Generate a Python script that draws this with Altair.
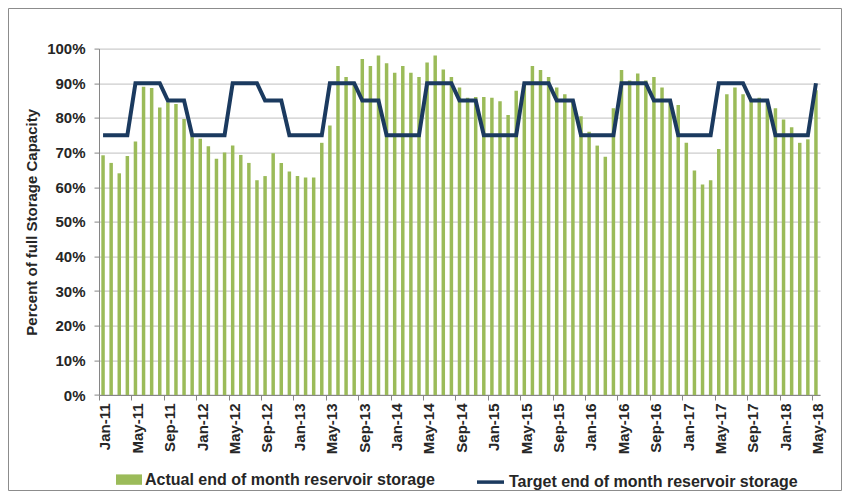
import altair as alt
import pandas as pd

months = ["Jan", "Feb", "Mar", "Apr", "May", "Jun", "Jul", "Aug", "Sep", "Oct", "Nov", "Dec"]
years = ["11", "12", "13", "14", "15", "16", "17", "18"]
labels = [f"{m}-{y}" for y in years for m in months][:89]

actual = [
    69.2, 67.0, 64.0, 69.0, 73.2, 89.0, 88.6, 83.0, 84.5, 84.0, 79.7, 74.5,
    74.0, 71.8, 68.2, 70.0, 72.0, 69.3, 67.0, 62.0, 63.2, 69.8, 67.0, 64.5,
    63.2, 62.8, 62.8, 72.8, 77.8, 95.0, 91.8, 89.5, 97.0, 95.0, 98.0, 95.8,
    93.0, 95.0, 93.0, 91.8, 96.0, 98.0, 94.0, 91.8, 88.8, 85.8, 86.0, 86.0,
    85.8, 84.8, 80.8, 87.8, 89.5, 95.0, 93.8, 91.8, 88.8, 86.8, 84.8, 80.5,
    76.0, 72.0, 68.8, 82.8, 93.8, 90.8, 92.8, 90.8, 91.8, 88.8, 84.5, 83.7,
    72.8, 64.8, 60.8, 62.0, 71.0, 86.8, 88.8, 86.8, 85.5, 85.8, 84.5, 82.8,
    79.5, 77.3, 72.8, 73.8, 88.0,
]

target = [
    75, 75, 75, 75, 90, 90, 90, 90, 85, 85, 85, 75,
    75, 75, 75, 75, 90, 90, 90, 90, 85, 85, 85, 75,
    75, 75, 75, 75, 90, 90, 90, 90, 85, 85, 85, 75,
    75, 75, 75, 75, 90, 90, 90, 90, 85, 85, 85, 75,
    75, 75, 75, 75, 90, 90, 90, 90, 85, 85, 85, 75,
    75, 75, 75, 75, 90, 90, 90, 90, 85, 85, 85, 75,
    75, 75, 75, 75, 90, 90, 90, 90, 85, 85, 85, 75,
    75, 75, 75, 75, 90,
]

tick_labels = labels[::4]
y_ticks = [0, 0.1, 0.2, 0.3, 0.4, 0.5, 0.6, 0.7, 0.8, 0.9, 1.0]

S1 = "Actual end of month reservoir storage"
S2 = "Target end of month reservoir storage"
GREEN = "#9BBB59"
NAVY = "#1B3A5F"
TEXT = "#262626"
FONT = "Liberation Sans Narrow, Arial Narrow, Liberation Sans, sans-serif"

df = pd.DataFrame({
    "month": labels,
    "actual": [v / 100 for v in actual],
    "target": [v / 100 for v in target],
    "s1": S1,
    "s2": S2,
})

W, H = 721, 346.4

x_axis = alt.Axis(
    values=tick_labels, labelAngle=-90, bandPosition=0, tickOffset=-2.3,
    labelOffset=4.05, title=None, labelFont=FONT, labelFontSize=15,
    labelFontWeight="bold", labelColor=TEXT, domainColor="#868686",
    tickColor="#868686", tickSize=5, labelPadding=3, grid=False,
    labelOverlap=False,
)
x_scale = alt.Scale(paddingInner=0.57, paddingOuter=0.285)

y_axis = alt.Axis(
    format="%", values=y_ticks, title="Percent of full Storage Capacity",
    titleFont=FONT, titleFontSize=15, titleFontWeight="bold", titleColor=TEXT,
    titlePadding=7, labelFont=FONT, labelFontSize=15, labelFontWeight="bold",
    labelColor=TEXT, gridColor="#BFBFBF", domainColor="#868686",
    tickColor="#868686", tickSize=5, labelPadding=9, labelOverlap=False,
)
y_scale = alt.Scale(domain=[0, 1])

bars = alt.Chart(df).mark_bar().encode(
    x=alt.X("month:N", sort=labels, scale=x_scale, axis=x_axis),
    y=alt.Y("actual:Q", scale=y_scale, axis=y_axis),
    fill=alt.Fill(
        "s1:N",
        scale=alt.Scale(domain=[S1], range=[GREEN]),
        legend=alt.Legend(
            orient="none", legendX=17, legendY=418, title=None,
            symbolType="M-1,-0.4H1V0.4H-1Z", symbolSize=676,
            symbolStrokeWidth=0, labelLimit=0,
            labelFont=FONT, labelFontSize=16, labelFontWeight="bold",
            labelColor=TEXT, labelOffset=3,
        ),
    ),
)

line = alt.Chart(df).mark_line(strokeWidth=4).encode(
    x=alt.X("month:N", sort=labels, scale=x_scale, axis=x_axis),
    y=alt.Y("target:Q", scale=y_scale, axis=y_axis),
    stroke=alt.Stroke(
        "s2:N",
        scale=alt.Scale(domain=[S2], range=[NAVY]),
        legend=alt.Legend(
            orient="none", legendX=376, legendY=418, title=None,
            symbolType="stroke", symbolSize=729, symbolStrokeWidth=3.5,
            labelLimit=0,
            labelFont=FONT, labelFontSize=16, labelFontWeight="bold",
            labelColor=TEXT, labelOffset=3,
        ),
    ),
)

frame = alt.Chart(alt.Data(values=[{"a": 1}])).mark_rect(
    fill="transparent", stroke="#8c8c8c", strokeWidth=1
).encode(
    x=alt.value(-90.5), x2=alt.value(742.5),
    y=alt.value(-40.1), y2=alt.value(441.9),
)

chart = alt.layer(bars, line, frame).resolve_scale(
    fill="independent", stroke="independent"
).properties(
    width=W, height=H,
    autosize=alt.AutoSizeParams(type="none"),
    padding={"left": 91, "top": 40.6, "right": 22, "bottom": 96},
    background="white",
).configure_view(stroke="transparent")

chart.save("out.html", embed_options={"renderer": "svg", "actions": False})
